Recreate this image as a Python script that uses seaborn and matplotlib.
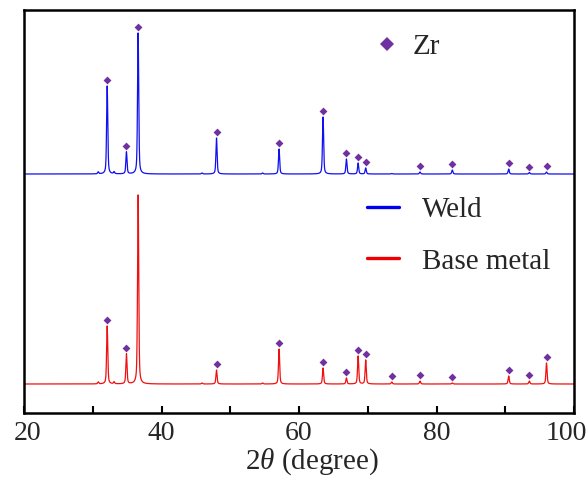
import numpy as np
import pandas as pd
import matplotlib
matplotlib.use("Agg")
import matplotlib.pyplot as plt
from matplotlib.lines import Line2D
from matplotlib.transforms import ScaledTranslation
import seaborn as sns

# Zr reflections (2theta, degrees) and peak intensities (a.u.) above each baseline
zr_peaks = [32.1, 34.9, 36.6, 48.0, 57.1, 63.5, 66.9, 68.6, 69.7, 73.5, 77.6, 82.3, 90.5, 93.5, 96.0]
weld_heights = [88, 22, 141, 36, 25, 57, 15, 11, 6, 0.5, 2, 4, 5, 1.5, 2]
base_heights = [58, 30, 189, 14, 35, 16, 6, 28, 24, 2, 3, 1, 8, 3, 21]
weld_marked = [True, True, True, True, True, True, True, True, True, False, True, True, True, True, True]
base_marked = [True, True, False, True, True, True, True, True, True, True, True, True, True, True, True]

# weak unindexed reflections
minor_peaks = [30.8, 33.1, 45.9, 54.7]
minor_heights = [2, 2, 1, 1]

weld_offset = 239
base_offset = 29

major_ticks = [20, 40, 60, 80, 100]
minor_ticks = [30, 50, 70, 90]

sns.set_theme(style="ticks")
plt.rcParams["font.family"] = ["Liberation Serif", "DejaVu Serif"]
plt.rcParams["mathtext.fontset"] = "custom"
plt.rcParams["mathtext.rm"] = "Liberation Serif"
plt.rcParams["mathtext.it"] = "Liberation Serif:italic"

W, H = 587, 478
fig = plt.figure(figsize=(W / 100, H / 100), dpi=100)
ax = fig.add_axes([24 / W, 1 - 413 / H, (574 - 24) / W, (413 - 10) / H])

grid = np.arange(20, 100.0001, 0.01)


def pattern(positions, heights, fwhm=0.2, eta=0.5):
    y = np.zeros_like(grid)
    g = fwhm / 2
    for p, h in zip(positions, heights):
        d = grid - p
        lor = 1 / (1 + (d / g) ** 2)
        gau = np.exp(-np.log(2) * (d / g) ** 2)
        y += h * (eta * lor + (1 - eta) * gau)
    return y


weld_y = weld_offset + pattern(zr_peaks + minor_peaks, weld_heights + minor_heights)
base_y = base_offset + pattern(zr_peaks + minor_peaks, base_heights + minor_heights)

df = pd.DataFrame({"two_theta": np.concatenate([grid, grid]),
                   "intensity": np.concatenate([weld_y, base_y]),
                   "sample": ["Weld"] * len(grid) + ["Base metal"] * len(grid)})

line_colors = {"Weld": "#1010f0", "Base metal": "#f01010"}
sns.lineplot(data=df, x="two_theta", y="intensity", hue="sample", palette=line_colors,
             estimator=None, linewidth=0.9, legend=False, ax=ax)

marker_gap = 6
mk = pd.DataFrame({
    "two_theta": [p for p, m in zip(zr_peaks, weld_marked) if m]
                 + [p for p, m in zip(zr_peaks, base_marked) if m],
    "y": [weld_offset + h + marker_gap for h, m in zip(weld_heights, weld_marked) if m]
         + [base_offset + h + marker_gap for h, m in zip(base_heights, base_marked) if m],
})
sns.scatterplot(data=mk, x="two_theta", y="y", marker="D", s=16, color="#7030a0",
                linewidth=0, ax=ax, zorder=5)

ax.set_xlim(20, 100)
ax.set_ylim(0, 403)
ax.set_yticks([])
ax.set_ylabel("")
ax.set_xticks(major_ticks, [str(t) for t in major_ticks])
ax.set_xticks(minor_ticks, minor=True)
ax.tick_params(axis="x", which="both", direction="in", length=5, width=1.5,
               top=False, labelsize=20, pad=6, color="black")
for s in ax.spines.values():
    s.set_linewidth(1.8)
    s.set_color("black")

# nudge the end labels so they stay inside the figure
xlabels = ax.get_xticklabels()
xlabels[0].set_transform(xlabels[0].get_transform() + ScaledTranslation(4 / 100, 0, fig.dpi_scale_trans))
xlabels[-1].set_transform(xlabels[-1].get_transform() + ScaledTranslation(-8 / 100, 0, fig.dpi_scale_trans))

ax.set_xlabel(r"2$\it{\theta}$ (degree)", fontsize=21, va="center")
ax.xaxis.set_label_coords((312 - 24) / 550, (413 - 462) / 403)

zr_handle = [Line2D([], [], marker="D", ls="none", color="#7030a0", markersize=7, markeredgewidth=0)]
leg1 = ax.legend(zr_handle, ["Zr"], loc="upper left", bbox_to_anchor=(372 / W, 1 - 34 / H),
                 bbox_transform=fig.transFigure, frameon=False, fontsize=21,
                 handlelength=1.0, handletextpad=0.4, borderpad=0, borderaxespad=0)
ax.add_artist(leg1)

line_handles = [Line2D([], [], color="#0000ee", lw=2.4), Line2D([], [], color="#ee0000", lw=2.4)]
ax.legend(line_handles, ["Weld", "Base metal"], loc="upper left",
          bbox_to_anchor=(367 / W, 1 - 197 / H), bbox_transform=fig.transFigure,
          frameon=False, fontsize=21, handlelength=1.1, handletextpad=0.8,
          labelspacing=0.85, borderpad=0, borderaxespad=0)

fig.savefig("out.png", dpi=100)
